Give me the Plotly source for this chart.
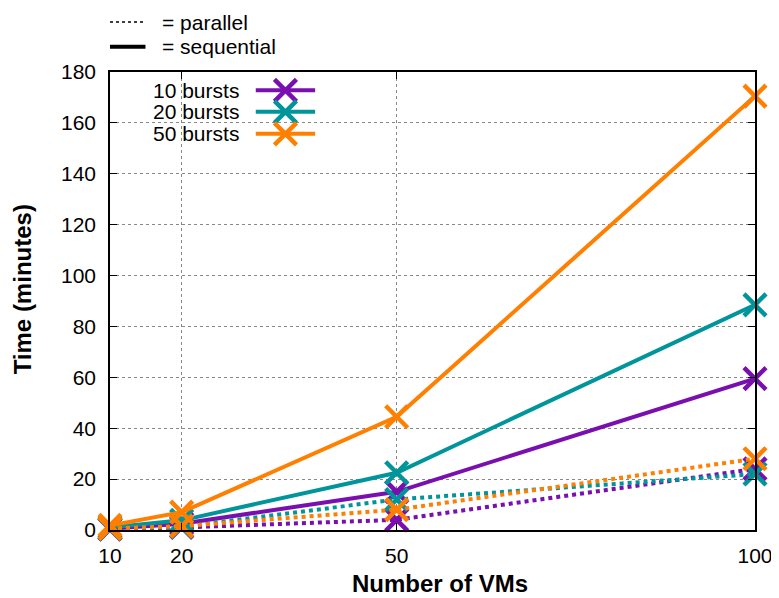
import plotly.graph_objects as go

# Number of VMs
vms = [10, 20, 50, 100]

# Time (minutes), sequential runs
seq_10 = [0.5, 2.5, 15, 59.5]
seq_20 = [1.0, 3.8, 22.5, 88.5]
seq_50 = [1.8, 7.0, 44.5, 170.5]

# Time (minutes), parallel runs
par_10 = [0.3, 1.0, 4.0, 24.0]
par_20 = [0.4, 1.2, 12.0, 22.0]
par_50 = [0.6, 1.5, 8.0, 28.0]

labels = ['10 bursts', '20 bursts', '50 bursts']
colors = ['#7a0fb0', '#00959b', '#ff7f00']

FONT = 'Liberation Sans, Arial, sans-serif'

fig = go.Figure()

series = [(seq_10, par_10), (seq_20, par_20), (seq_50, par_50)]
for (seq, par), col in zip(series, colors):
    for ys, dash in [(seq, 'solid'), (par, 'dot')]:
        fig.add_trace(go.Scatter(
            x=vms, y=ys, mode='lines+markers',
            line=dict(color=col, width=4, dash=dash),
            marker=dict(symbol='x-thin', size=22, line=dict(color=col, width=4.5)),
            showlegend=False, cliponaxis=False))

# legend samples on an overlay axis (0..1 over the plot area)
leg_y = [0.960, 0.913, 0.865]
for lab, col, yy in zip(labels, colors, leg_y):
    fig.add_trace(go.Scatter(
        x=[0.226, 0.318], y=[yy, yy], mode='lines', xaxis='x2', yaxis='y2',
        line=dict(color=col, width=4), showlegend=False, hoverinfo='skip'))
    fig.add_trace(go.Scatter(
        x=[0.272], y=[yy], mode='markers', xaxis='x2', yaxis='y2',
        marker=dict(symbol='x-thin', size=22, line=dict(color=col, width=4.5)),
        showlegend=False, hoverinfo='skip'))
    fig.add_annotation(x=0.203, y=yy, xref='x2', yref='y2', text=lab,
                       showarrow=False, xanchor='right', yanchor='middle',
                       font=dict(family=FONT, size=21, color='black'))

# line-style key above the plot
fig.add_shape(type='line', xref='paper', yref='paper', x0=0.0, x1=0.054,
              y0=1.109, y1=1.109, line=dict(color='black', width=1.5, dash='dot'))
fig.add_shape(type='line', xref='paper', yref='paper', x0=0.0, x1=0.055,
              y0=1.055, y1=1.055, line=dict(color='black', width=4))
fig.add_annotation(x=0.077, y=1.109, xref='paper', yref='paper', text='= parallel',
                   showarrow=False, xanchor='left', yanchor='middle',
                   font=dict(family=FONT, size=21, color='black'))
fig.add_annotation(x=0.077, y=1.055, xref='paper', yref='paper', text='= sequential',
                   showarrow=False, xanchor='left', yanchor='middle',
                   font=dict(family=FONT, size=21, color='black'))

# axis titles
fig.add_annotation(x=0.512, y=-0.116, xref='paper', yref='paper', text='<b>Number of VMs</b>',
                   showarrow=False, xanchor='center', yanchor='middle',
                   font=dict(family=FONT, size=24, color='black'))
fig.add_annotation(x=-0.136, y=0.526, xref='paper', yref='paper', text='<b>Time (minutes)</b>',
                   showarrow=False, xanchor='center', yanchor='middle', textangle=-90,
                   font=dict(family=FONT, size=24, color='black'))

axis_common = dict(
    showline=True, linecolor='black', linewidth=1.5, mirror='ticks',
    ticks='inside', ticklen=7, tickcolor='black', automargin=False,
    showgrid=True, gridcolor='#888888', griddash='dot', gridwidth=1,
    zeroline=False, tickfont=dict(family=FONT, size=21, color='black'))

# page body has an 8px margin, so the figure is 8px smaller than the window
fig.update_layout(
    width=771, height=590,
    margin=dict(l=102, r=24, t=64, b=68),
    plot_bgcolor='white', paper_bgcolor='white',
    font=dict(family=FONT, size=21, color='black'),
    xaxis=dict(range=[10, 100], tickvals=vms, ticktext=[str(v) for v in vms],
               ticklabelstandoff=6, **axis_common),
    yaxis=dict(range=[0, 180], dtick=20, ticklabelstandoff=8, **axis_common),
    xaxis2=dict(overlaying='x', range=[0, 1], visible=False),
    yaxis2=dict(overlaying='y', range=[0, 1], visible=False),
)

fig.write_html('out.html')
